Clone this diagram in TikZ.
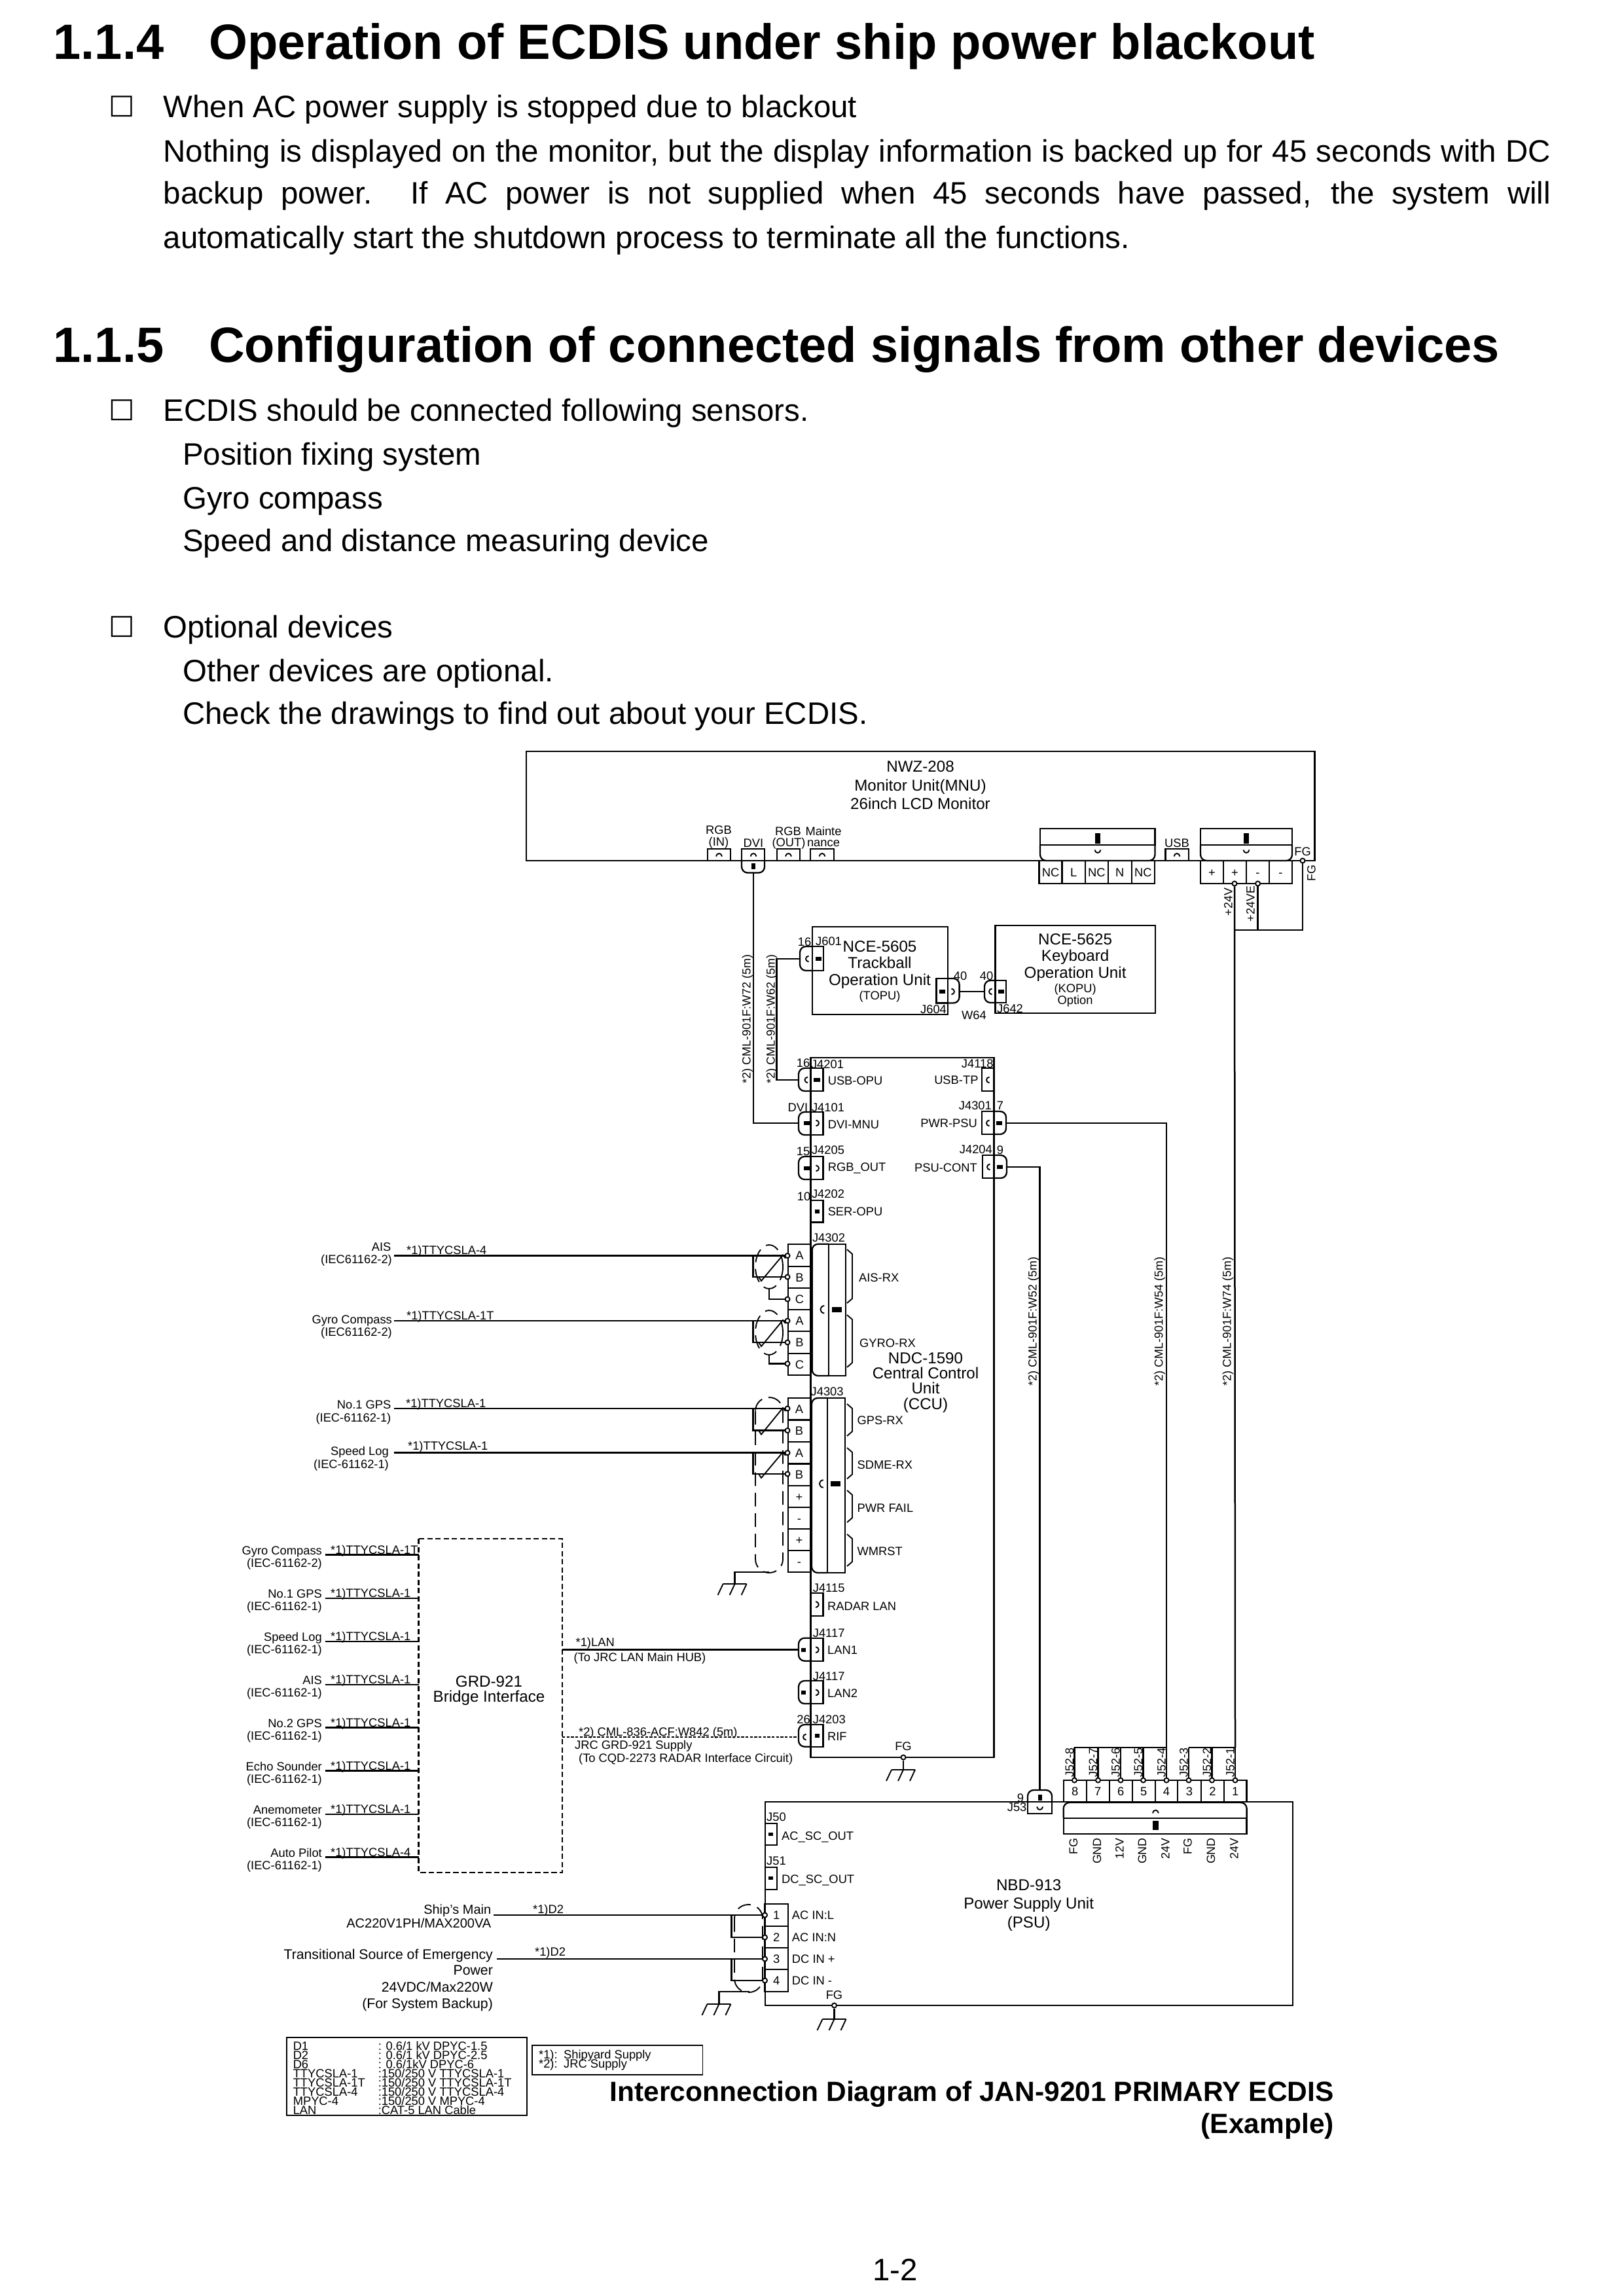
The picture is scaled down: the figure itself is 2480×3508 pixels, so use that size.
\documentclass[tikz,border=0pt]{standalone}
\usepackage{fontspec}
\setmainfont{Liberation Sans}
\newfontfamily\symfont{DejaVu Sans}

\tikzset{every picture/.style={line width=0.55pt}}
\tikzset{
	txts/.style={inner sep=0pt,font=\fontsize{4.4}{5}\selectfont,text height=3.2pt,text depth=0pt},
	txtb/.style={inner sep=0pt,font=\fontsize{5.8}{7}\selectfont,text height=4.2pt,text depth=0pt},
	txtr/.style={inner sep=0pt,rotate=90,font=\fontsize{4.3}{5}\selectfont,text height=3.2pt,text depth=0pt},
	txth/.style={inner sep=0pt,anchor=west,font=\fontsize{18.2}{20}\bfseries\selectfont,text height=13pt,text depth=0.7pt},
	txtp/.style={inner sep=0pt,anchor=west,font=\fontsize{11.38}{14}\selectfont,text height=8.3pt,text depth=0.4pt},
	txtt/.style={inner sep=0pt,anchor=east,font=\fontsize{10.2}{12}\bfseries\selectfont,text height=7.4pt,text depth=2.1pt},
	boxmark/.style={inner sep=0pt,font=\symfont\fontsize{10}{12}\selectfont},
	lblL/.style={txts,anchor=west},
	lblR/.style={txts,anchor=east},
	conn/.style={line width=0.55pt},
	unit/.style={line width=0.6pt},
	wire/.style={line width=0.6pt},
	hair/.style={line width=0.45pt},
	shield/.style={line width=0.45pt,dash pattern=on 5pt off 2.5pt},
	pincircle/.style={circle,draw,fill=white,line width=0.45pt,inner sep=0pt,minimum size=1.7pt},
}

% square part from ya to ym, rounded part from ym to yb
\newcommand{\plugV}[5]{
	\draw [conn] (#1,#3) -- (#1,#4) -- (#2,#4) -- (#2,#3) -- cycle;
	\draw [conn,rounded corners=2.2pt] (#1,#4) -- (#1,#5) -- (#2,#5) -- (#2,#4);
}
\newcommand{\plugH}[5]{
	\draw [conn] (#3,#1) -- (#4,#1) -- (#4,#2) -- (#3,#2) -- cycle;
	\draw [conn,rounded corners=2.2pt] (#4,#1) -- (#5,#1) -- (#5,#2) -- (#4,#2);
}
\newcommand{\blk}[4]{\fill (#1-#3,#2-#4) rectangle (#1+#3,#2+#4);}
\newcommand{\arcm}[4][1]{\draw [hair,shift={(#2,#3)},rotate=#4,scale=#1] (2.5,-4.5) .. controls (-3.5,-3.5) and (-3.5,3.5) .. (2.5,4.5);}
\newcommand{\cellbox}[6]{\draw [conn] (#2,#3) rectangle (#4,#5) node [midway,txts] (#1) {#6};}
\newcommand{\groundsym}[3]{
	\coordinate (#1) at (#2,#3);
	\draw [hair,shift={(#2,#3)}] (-18,0) -- (18,0) (-18,0) -- (-26,17) (0,0) -- (-8,17) (18,0) -- (10,17);
}
\newcommand{\rxbrace}[2]{\draw [hair] (1294,#1) -- (1302,#1+7) -- (1302,#2-7) -- (1294,#2);}
% signal pair: tail x, name, y of upper pin, y of lower pin
\newcommand{\sigpair}[4]{
	\coordinate (#2Tail) at (#1,#3);
	\coordinate (#2Bend) at (1150.6,#3);
	\node [pincircle] (#2PinA) at (1203,#3) {};
	\node [pincircle] (#2PinB) at (1203,#4) {};
	\draw [wire] (#2Tail) -- (#2PinA);
	\draw [wire] (#2Bend) |- (#2PinB);
	\draw [hair] (1200,#3+4) -- (1196,#3-1) -- (1163,#4+6) -- (1159,#4);
}

\begin{document}
\begin{tikzpicture}[x=0.24pt,y=0.24pt,yscale=-1,xscale=1]
	\useasboundingbox (0,0) rectangle (2480,3508);

	% Page text
	\draw (80.6,65) node (headA) [txth] {1.1.4};
	\draw (318,65) node (headB) [txth] {Operation of ECDIS under ship power blackout};
	\draw (186,163) node (boxA) [boxmark] {□};
	\draw (248.5,163) node (paraA) [txtp] {When AC power supply is stopped due to blackout};
	\draw (248.5,230.6) node (paraB) [txtp] {\makebox[508.7pt][s]{Nothing is displayed on the monitor, but the display information is backed up for 45 seconds with DC}};
	\draw (248.5,295.5) node (paraC) [txtp] {\makebox[508.7pt][s]{backup power.  If AC power is not supplied when 45 seconds have passed, the system will}};
	\draw (248.5,362.6) node (paraD) [txtp] {automatically start the shutdown process to terminate all the functions.};
	\draw (80.6,528) node (headC) [txth] {1.1.5};
	\draw (318,528) node (headD) [txth] {Configuration of connected signals from other devices};
	\draw (186,627) node (boxB) [boxmark] {□};
	\draw (248.5,627) node (paraE) [txtp] {ECDIS should be connected following sensors.};
	\draw (278,694) node (paraF) [txtp] {Position fixing system};
	\draw (278,761) node (paraG) [txtp] {Gyro compass};
	\draw (278,826) node (paraH) [txtp] {Speed and distance measuring device};
	\draw (186,958) node (boxC) [boxmark] {□};
	\draw (248.5,958) node (paraI) [txtp] {Optional devices};
	\draw (278,1025) node (paraJ) [txtp] {Other devices are optional.};
	\draw (278,1090) node (paraK) [txtp] {Check the drawings to find out about your ECDIS.};
	\draw (1367.8,3468) node (pageNo) [txtp,anchor=center] {1-2};

	%Monitor Unit
	\draw [unit] (804,1148) rectangle (2008.5,1315);
	\draw (1406,1171) node (nwzA) [txtb] {NWZ-208};
	\draw (1406,1200) node (nwzB) [txtb] {Monitor Unit(MNU)};
	\draw (1406,1228) node (nwzC) [txtb] {26inch LCD Monitor};
	\foreach \xa/\xb/\xc in {1081/1116/1098.5,1187/1222/1204.5,1238/1274/1256,1780.5/1816/1798}{
		\draw [conn] (\xa,1297) rectangle (\xb,1315);
		\arcm{\xc}{1306}{90}
	}
	\plugV{1133}{1168}{1297}{1315}{1333.5}
	\arcm{1151}{1306}{90}
	\blk{1151}{1323}{3}{4.5}
	\coordinate (dviOut) at (1151,1333.5);
	\draw (1098,1268) node (rgbInA) [txts] {RGB};
	\draw (1098,1286) node (rgbInB) [txts] {(IN)};
	\draw (1151,1288) node (dviLbl) [txts] {DVI};
	\draw (1204,1270) node (rgbOutA) [txts] {RGB};
	\draw (1205,1287) node (rgbOutB) [txts] {(OUT)};
	\draw (1258,1270) node (mntA) [txts] {Mainte};
	\draw (1258,1287) node (mntB) [txts] {nance};
	\draw (1798,1288) node (usbLbl) [txts] {USB};
	\plugV{1589}{1764.5}{1266}{1291}{1315}
	\blk{1677}{1281}{4}{8}
	\arcm{1677}{1301}{-90}
	\foreach \xa/\xb/\t [count=\i] in {1587.5/1622.6/NC,1622.6/1657.8/L,1657.8/1692.8/NC,1692.8/1728.7/N,1728.7/1764/NC}{
		\cellbox{acCell\i}{\xa}{1315}{\xb}{1350}{\t}
	}
	\plugV{1834}{1974}{1266}{1291}{1315}
	\blk{1904}{1281}{4}{8}
	\arcm{1904}{1301}{-90}
	\foreach \xa/\xb/\t [count=\i] in {1834/1869/+,1869/1904/+,1904/1939/-,1939/1974/-}{
		\cellbox{dcCell\i}{\xa}{1315}{\xb}{1350}{\t}
	}
	\node [pincircle] (pinPos) at (1886,1350) {};
	\node [pincircle] (pinNeg) at (1921.6,1350) {};
	\node [pincircle] (pinFg) at (1990,1315) {};
	\coordinate (joinPos) at (1886,1421);
	\coordinate (joinNeg) at (1921.6,1421);
	\coordinate (joinFg) at (1990,1421);
	\draw [wire] (pinNeg) -- (joinNeg);
	\draw [wire] (pinFg) -- (joinFg) -- (joinPos);
	\draw (1990,1301) node (fgInner) [txts] {FG};
	\draw (2003,1334) node (fgOuter) [txtr] {FG};
	\draw (1876,1378) node (lblPos) [txtr] {+24V};
	\draw (1910,1381) node (lblNeg) [txtr] {+24VE};

	%Trackball Operation Unit
	\draw [unit] (1241,1416) rectangle (1448,1550);
	\draw (1344,1446) node (topuA) [txtb] {NCE-5605};
	\draw (1344,1471) node (topuB) [txtb] {Trackball};
	\draw (1344,1497) node (topuC) [txtb] {Operation Unit};
	\draw (1344,1521) node (topuD) [txts] {(TOPU)};
	\plugH{1446}{1483}{1258}{1241}{1222}
	\arcm{1233}{1465}{0}
	\blk{1250}{1465}{4.5}{2.8}
	\coordinate (j601In) at (1222,1465);
	\draw (1229,1439) node (lbl16a) [txts] {16};
	\draw (1266,1438) node (lblJ601) [txts] {J601};
	\plugH{1495}{1532.5}{1430.5}{1448}{1465.6}
	\blk{1439}{1515}{4.5}{2.8}
	\arcm{1456}{1515}{180}
	\coordinate (j604Out) at (1465.6,1515);
	\draw (1467,1491) node (lbl40a) [txts] {40};
	\draw (1426,1542) node (lblJ604) [txts] {J604};

	%Keyboard Operation Unit
	\draw [unit] (1520.6,1414) rectangle (1765,1548);
	\draw (1642.6,1435) node (kopuA) [txtb] {NCE-5625};
	\draw (1642.6,1460) node (kopuB) [txtb] {Keyboard};
	\draw (1642.6,1486) node (kopuC) [txtb] {Operation Unit};
	\draw (1642.6,1510) node (kopuD) [txts] {(KOPU)};
	\draw (1642.6,1528) node (kopuE) [txts] {Option};
	\plugH{1498}{1532}{1537}{1520.6}{1504}
	\arcm{1513}{1515}{0}
	\blk{1529}{1515}{4.5}{2.8}
	\coordinate (j642In) at (1504,1515);
	\draw (1507,1491) node (lbl40b) [txts] {40};
	\draw (1543,1541) node (lblJ642) [txts] {J642};
	\draw [wire] (j604Out) -- (j642In);
	\draw (1488,1551) node (lblW64) [txts] {W64};

	%Central Control Unit
	\draw [unit] (1238.7,1616) rectangle (1518.7,2685);
	\draw (1414,2075) node (ccuA) [txtb] {NDC-1590};
	\draw (1414,2098) node (ccuB) [txtb] {Central Control};
	\draw (1414,2121) node (ccuC) [txtb] {Unit};
	\draw (1414,2145) node (ccuD) [txtb] {(CCU)};
	% left side connectors
	\plugH{1632}{1667}{1257.5}{1238.7}{1220}
	\arcm{1231.5}{1650}{0}
	\blk{1247.5}{1650}{5}{2.8}
	\coordinate (j4201In) at (1220,1650);
	\draw (1227,1624) node (lbl16b) [txts] {16};
	\draw (1264,1626) node (lblJ4201) [txts] {J4201};
	\draw (1263.6,1651) node (lblUsbOpu) [lblL] {USB-OPU};
	\plugH{1699}{1734}{1257.5}{1238.7}{1220}
	\blk{1232}{1716}{4.5}{2.8}
	\arcm{1249}{1716}{180}
	\coordinate (j4101In) at (1220,1716);
	\draw (1219,1692) node (lblDvi) [txts] {DVI};
	\draw (1265,1692) node (lblJ4101) [txts] {J4101};
	\draw (1263.6,1718) node (lblDviMnu) [lblL] {DVI-MNU};
	\plugH{1767}{1802}{1257.5}{1238.7}{1220}
	\blk{1232}{1785}{4.5}{2.8}
	\arcm{1249}{1785}{180}
	\draw (1227,1758.6) node (lbl15) [txts] {15};
	\draw (1265,1757) node (lblJ4205) [txts] {J4205};
	\draw (1263.6,1783) node (lblRgbOut) [lblL] {RGB\_OUT};
	\draw [conn] (1238.7,1834) rectangle (1257.5,1867.5);
	\blk{1248.5}{1851}{3.8}{2.8}
	\draw (1228,1828) node (lbl10) [txts] {10};
	\draw (1265,1824) node (lblJ4202) [txts] {J4202};
	\draw (1263.6,1851) node (lblSerOpu) [lblL] {SER-OPU};
	% right side connectors
	\draw [conn] (1500,1632) rectangle (1518.7,1667);
	\arcm{1509}{1650}{0}
	\draw (1518.7,1625) node (lblJ4118) [lblR] {J4118};
	\draw (1495.6,1650) node (lblUsbTp) [lblR] {USB-TP};
	\plugH{1698}{1733}{1500}{1518.7}{1537}
	\arcm{1509}{1716}{0}
	\blk{1526}{1716}{4.5}{2.8}
	\coordinate (j4301Out) at (1537,1716);
	\draw (1516,1689) node (lblJ4301) [lblR] {J4301};
	\draw (1528,1689) node (lbl7) [txts] {7};
	\draw (1494,1716) node (lblPwrPsu) [lblR] {PWR-PSU};
	\plugH{1765}{1800}{1501}{1518.7}{1538}
	\arcm{1510}{1783}{0}
	\blk{1527}{1783}{4.5}{2.8}
	\coordinate (j4204Out) at (1538,1783);
	\draw (1517,1756) node (lblJ4204) [lblR] {J4204};
	\draw (1528,1757) node (lbl9) [txts] {9};
	\draw (1494,1784) node (lblPsuCont) [lblR] {PSU-CONT};

	% J4302 group
	\draw (1266,1891) node (lblJ4302) [txts] {J4302};
	\foreach \ya/\yb/\t [count=\i] in {1900.7/1935/A,1935/1968/B,1968/2000.7/C,2000.7/2034/A,2034/2068/B,2068/2101/C}{
		\cellbox{rowA\i}{1204}{\ya}{1239}{\yb}{\t}
	}
	\plugH{1900.7}{2102}{1292}{1266}{1240.6}
	\arcm[1.3]{1256}{2000.7}{0}
	\blk{1278.5}{2001}{7.5}{4}
	\rxbrace{1909}{1991}
	\rxbrace{2009}{2089}
	\draw (1311,1952) node (lblAisRx) [lblL] {AIS-RX};
	\draw (1312,2052) node (lblGyroRx) [lblL] {GYRO-RX};

	% J4303 group
	\draw (1263.6,2126) node (lblJ4303) [txts] {J4303};
	\foreach \ya/\yb/\t [count=\i] in {2136/2169.5/A,2169.5/2203/B,2203/2236.5/A,2236.5/2270/B,2270/2303/+,2303/2336/-,2336/2369/+,2369/2402/-}{
		\cellbox{rowB\i}{1204}{\ya}{1238}{\yb}{\t}
	}
	\plugH{2136}{2403}{1291}{1264}{1240}
	\arcm[1.3]{1254.5}{2267}{0}
	\blk{1276}{2267}{7.5}{4}
	\rxbrace{2145}{2194}
	\rxbrace{2212}{2259.5}
	\rxbrace{2277}{2326}
	\rxbrace{2344}{2393}
	\draw (1308.5,2170) node (lblGpsRx) [lblL] {GPS-RX};
	\draw (1308.5,2238) node (lblSdmeRx) [lblL] {SDME-RX};
	\draw (1308.5,2303.5) node (lblPwrFail) [lblL] {PWR FAIL};
	\draw (1308.5,2370) node (lblWmrst) [lblL] {WMRST};

	% serial inputs
	\sigpair{602}{ais}{1918.5}{1951}
	\sigpair{602}{gyro}{2018}{2051}
	\sigpair{602}{gps}{2152}{2185.6}
	\sigpair{602}{log}{2219.7}{2252}
	\draw [shield] (1175,1935.5) ellipse [x radius=21,y radius=33.5];
	\draw [shield] (1175,2036) ellipse [x radius=21,y radius=34];
	\draw [shield,rounded corners=5pt] (1154,2135) rectangle (1196,2403);
	\node [pincircle] (aisPinC) at (1203,1985) {};
	\node [pincircle] (gyroPinC) at (1203,2083.5) {};
	\coordinate (aisDrain) at (1175,1969);
	\coordinate (gyroDrain) at (1175,2070);
	\draw [wire] (aisDrain) |- (aisPinC);
	\draw [wire] (gyroDrain) |- (gyroPinC);
	\groundsym{gndGps}{1122.6}{2420}
	\coordinate (gpsDrain) at (1175,2402);
	\draw [wire] (gpsDrain) -| (gndGps);
	\draw (598.5,1905) node (srcAis) [lblR] {AIS};
	\draw (600,1924) node (stdAis) [lblR] {(IEC61162-2)};
	\draw (620,1909.5) node (cabAis) [lblL] {*1)TTYCSLA-4};
	\draw (600,2015.7) node (srcGyro) [lblR] {Gyro Compass};
	\draw (600,2034.5) node (stdGyro) [lblR] {(IEC61162-2)};
	\draw (620,2010) node (cabGyro) [lblL] {*1)TTYCSLA-1T};
	\draw (598.5,2145.5) node (srcGps) [lblR] {No.1 GPS};
	\draw (598.5,2165.7) node (stdGps) [lblR] {(IEC-61162-1)};
	\draw (619,2144.2) node (cabGps) [lblL] {*1)TTYCSLA-1};
	\draw (595,2217) node (srcLog) [lblR] {Speed Log};
	\draw (595,2236.5) node (stdLog) [lblR] {(IEC-61162-1)};
	\draw (622,2208.5) node (cabLog) [lblL] {*1)TTYCSLA-1};

	% lower connectors
	\draw [conn] (1239,2434) rectangle (1257.4,2469);
	\arcm{1248.7}{2451.5}{180}
	\draw (1240.7,2426) node (lblJ4115) [lblL] {J4115};
	\draw (1263,2454) node (lblRadarLan) [lblL] {RADAR LAN};
	\plugH{2502.7}{2537.7}{1257.4}{1239}{1220}
	\blk{1227.5}{2520.7}{3.5}{2.8}
	\arcm{1248.7}{2520.7}{180}
	\coordinate (lan1In) at (1220,2520.7);
	\draw (1240.7,2495) node (lblJ4117a) [lblL] {J4117};
	\draw (1263,2521) node (lblLan1) [lblL] {LAN1};
	\plugH{2568}{2603}{1257.4}{1239}{1220}
	\blk{1227.5}{2586}{3.5}{2.8}
	\arcm{1248.7}{2586}{180}
	\draw (1240.7,2561) node (lblJ4117b) [lblL] {J4117};
	\draw (1263,2586.7) node (lblLan2) [lblL] {LAN2};
	\plugH{2635}{2668.7}{1257.4}{1239}{1220}
	\arcm{1229}{2654}{0}
	\blk{1248}{2652}{3.5}{2.8}
	\coordinate (rifIn) at (1220,2654);
	\draw (1227.5,2626.7) node (lbl26) [txts] {26};
	\draw (1240.7,2626.7) node (lblJ4203) [lblL] {J4203};
	\draw (1263,2653) node (lblRif) [lblL] {RIF};
	\node [pincircle] (pinFgCcu) at (1380,2685) {};
	\groundsym{gndCcu}{1380}{2704}
	\draw [wire] (pinFgCcu) -- (gndCcu);
	\draw (1380,2668) node (lblFgCcu) [txts] {FG};

	%Bridge Interface
	\draw [unit,dash pattern=on 2pt off 1pt] (639.7,2351) rectangle (859,2861);
	\draw (747,2568.6) node (grdA) [txtb] {GRD-921};
	\draw (747,2592) node (grdB) [txtb] {Bridge Interface};
	\foreach \yl/\src/\std/\cab [count=\i] in {2375.7/Gyro Compass/2/1T,2441.8/No.1 GPS/1/1,2507.9/Speed Log/1/1,2574/AIS/1/1,2639.6/No.2 GPS/1/1,2705.7/Echo Sounder/1/1,2771.8/Anemometer/1/1,2837.5/Auto Pilot/1/4}{
		\coordinate (brSrc\i) at (496.7,\yl);
		\coordinate (brIn\i) at (639.7,\yl);
		\draw [wire] (brSrc\i) -- (brIn\i);
		\draw (493,\yl-7) node (brName\i) [lblR] {\src};
		\draw (493,\yl+12) node (brStd\i) [lblR] {(IEC-61162-\std)};
		\draw (504,\yl-8) node (brCab\i) [lblL] {*1)TTYCSLA-\cab};
	}
	\coordinate (brLan) at (859,2520.7);
	\draw [wire] (brLan) -- (lan1In);
	\draw (878.5,2509) node (lblLanA) [lblL] {*1)LAN};
	\draw (875.5,2532) node (lblLanB) [lblL] {(To JRC LAN Main HUB)};
	\coordinate (brRif) at (859,2654);
	\draw [wire,dash pattern=on 1pt off 0.6pt] (brRif) -- (rifIn);
	\draw (883,2646) node (lblRifA) [lblL] {*2)  CML-836-ACF:W842 (5m)};
	\draw (877,2665.7) node (lblRifB) [lblL] {JRC GRD-921 Supply};
	\draw (883,2686) node (lblRifC) [lblL] {(To CQD-2273 RADAR Interface Circuit)};

	%Power Supply Unit
	\draw [unit] (1169,2753) rectangle (1975,3064);
	\draw (1571.7,2880) node (psuA) [txtb] {NBD-913};
	\draw (1571.7,2908) node (psuB) [txtb] {Power Supply Unit};
	\draw (1571.7,2936.7) node (psuC) [txtb] {(PSU)};
	\plugV{1570}{1607}{2771}{2753}{2735}
	\blk{1588.6}{2746.7}{3}{4.5}
	\arcm{1588.6}{2763}{-90}
	\coordinate (j53In) at (1588.6,2735);
	\draw (1559,2747) node (lbl9b) [txts] {9};
	\draw (1553.6,2760.7) node (lblJ53) [txts] {J53};
	\foreach \xa/\xb/\t [count=\i] in {1624.7/1659.7/8,1659.7/1694.8/7,1694.8/1729.8/6,1729.8/1764.8/5,1764.8/1799/4,1799/1834.8/3,1834.8/1869.9/2,1869.9/1904.6/1}{
		\cellbox{j52Cell\i}{\xa}{2720}{\xb}{2753}{\t}
	}
	\plugV{1624.7}{1904.6}{2802}{2777.7}{2754}
	\arcm{1765.4}{2767.7}{90}
	\blk{1765.4}{2788.7}{4.3}{7}
	\foreach \xp/\t/\f [count=\i] in {1641.4/8/FG,1677.5/7/GND,1712/6/12V,1746.5/5/GND,1782/4/24V,1816/3/FG,1851.5/2/GND,1887/1/24V}{
		\node [pincircle] (j52Pin\t) at (\xp,2720) {};
		\coordinate (j52Top\t) at (\xp,2670);
		\draw [wire] (j52Top\t) -- (j52Pin\t);
		\draw (\xp-8,2693) node (j52Lbl\t) [txtr] {J52-\t};
		\draw (\xp-2,2807) node (j52Sig\t) [txtr,anchor=east] {\f};
	}
	\draw [wire] (j52Top8) -- (j52Top4);
	\draw [wire] (j52Top3) -- (j52Top1);
	% side connectors of the power unit
	\draw [conn] (1169,2786) rectangle (1187,2819);
	\blk{1177.5}{2802.5}{3.5}{2.8}
	\draw (1170,2776) node (lblJ50) [lblL] {J50};
	\draw (1193,2805) node (lblAcSc) [lblL] {AC\_SC\_OUT};
	\draw [conn] (1169,2852.7) rectangle (1187,2886.7);
	\blk{1177.5}{2869.5}{3.5}{2.8}
	\draw (1170,2843) node (lblJ51) [lblL] {J51};
	\draw (1193,2871) node (lblDcSc) [lblL] {DC\_SC\_OUT};
	\foreach \ya/\yb/\t/\s [count=\i] in {2909/2943/1/AC IN:L,2943/2976/2/AC IN:N,2976/3009/3/DC IN +,3009/3042.7/4/DC IN -}{
		\cellbox{psuCell\i}{1168.6}{\ya}{1203.7}{\yb}{\t}
		\draw (1208.8,\ya+17) node (psuSig\i) [lblL] {\s};
		\node [pincircle] (psuPin\i) at (1168.5,\ya+17) {};
	}
	\coordinate (mainTail) at (754,2926);
	\coordinate (mainBend) at (1117.5,2926);
	\coordinate (emgTail) at (759,2993);
	\coordinate (emgBend) at (1117.5,2993);
	\draw [wire] (mainTail) -- (psuPin1);
	\draw [wire] (mainBend) |- (psuPin2);
	\draw [wire] (emgTail) -- (psuPin3);
	\draw [wire] (emgBend) |- (psuPin4);
	\draw [shield,rounded corners=5pt] (1122,2910) rectangle (1165,3044);
	\groundsym{gndMain}{1098.4}{3062}
	\coordinate (mainDrain) at (1145,3043);
	\draw [wire] (mainDrain) -| (gndMain);
	\node [pincircle] (pinFgPsu) at (1274.5,3064) {};
	\groundsym{gndPsu}{1274.5}{3085}
	\draw [wire] (pinFgPsu) -- (gndPsu);
	\draw (1274.5,3048) node (lblFgPsu) [txts] {FG};
	\draw (751.4,2918) node (srcMainA) [lblR,font=\fontsize{4.8}{6}\selectfont] {Ship's Main};
	\draw (751.4,2939) node (srcMainB) [lblR,font=\fontsize{4.8}{6}\selectfont] {AC220V1PH/MAX200VA};
	\draw (813,2916.7) node (cabMain) [lblL] {*1)D2};
	\draw (754,2986.7) node (srcEmgA) [lblR,font=\fontsize{5.1}{6}\selectfont] {Transitional Source of Emergency};
	\draw (754,3011) node (srcEmgB) [lblR,font=\fontsize{5.1}{6}\selectfont] {Power};
	\draw (754,3036.7) node (srcEmgC) [lblR,font=\fontsize{5.1}{6}\selectfont] {24VDC/Max220W};
	\draw (754,3062) node (srcEmgD) [lblR,font=\fontsize{5.1}{6}\selectfont] {(For System Backup)};
	\draw (816,2981.7) node (cabEmg) [lblL] {*1)D2};

	% cable wires between units
	\draw [wire] (dviOut) |- (j4101In);
	\coordinate (w62Bend) at (1186.6,1465);
	\draw [wire] (j601In) -- (w62Bend) |- (j4201In);
	\draw [wire] (j4301Out) -| (j52Top4);
	\draw [wire] (j4204Out) -| (j53In);
	\draw [wire] (pinPos) -- (j52Top1);
	\draw (1140,1557) node (lblW72) [txtr] {*2)  CML-901F:W72 (5m)};
	\draw (1177,1557) node (lblW62) [txtr] {*2)  CML-901F:W62 (5m)};
	\draw (1577,2019) node (lblW52) [txtr] {*2)  CML-901F:W52 (5m)};
	\draw (1769.6,2019) node (lblW54) [txtr] {*2)  CML-901F:W54 (5m)};
	\draw (1874,2019) node (lblW74) [txtr] {*2)  CML-901F:W74 (5m)};

	%Cable tables
	\draw [hair] (438,3113) rectangle (805,3232);
	\foreach \yr/\na/\nb [count=\i] in {3125.7/D1/{: 0.6{/}1 kV DPYC-1.5},3139.7/D2/{: 0.6{/}1 kV DPYC-2.5},3153.3/D6/{: 0.6{/}1kV DPYC-6},3167.3/TTYCSLA-1/{:150{/}250 V TTYCSLA-1},3181.3/TTYCSLA-1T/{:150{/}250 V TTYCSLA-1T},3195.3/TTYCSLA-4/{:150{/}250 V TTYCSLA-4},3209.3/MPYC-4/{:150{/}250 V MPYC-4},3223.3/LAN/{:CAT-5 LAN Cable}}{
		\draw (446.6,\yr) node (tblA\i) [lblL] {\na};
		\draw (576.6,\yr) node (tblB\i) [lblL] {\nb};
	}
	\draw [hair] (813,3125) rectangle (1073.5,3170);
	\draw (822,3139) node (noteA) [lblL] {*1):};
	\draw (860,3139) node (noteB) [lblL] {Shipyard Supply};
	\draw (822,3153) node (noteC) [lblL] {*2):};
	\draw (860,3153) node (noteD) [lblL] {JRC Supply};
	\draw (2039,3199) node (titleA) [txtt] {Interconnection Diagram of JAN-9201 PRIMARY ECDIS};
	\draw (2039,3248) node (titleB) [txtt] {(Example)};
\end{tikzpicture}
\end{document}
